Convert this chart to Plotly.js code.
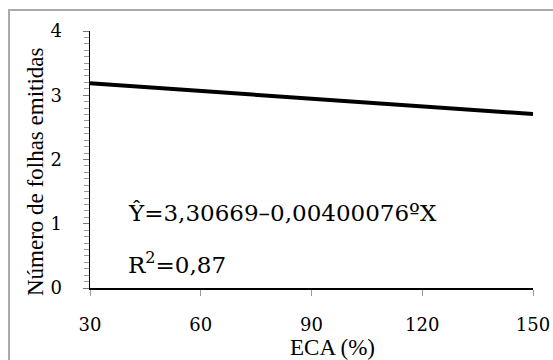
<!DOCTYPE html>
<html>
<head>
<meta charset="utf-8">
<script src="https://cdn.plot.ly/plotly-3.0.1.min.js"></script>
<style>html,body{margin:0;padding:0;background:#fff;}#chart{width:553px;height:360px;}</style>
</head>
<body>
<div id="chart"></div>
<script>
// Data
var ecaPercent = [30, 150];
var leavesFit = [3.187, 2.707];
var xTickVals = [30, 60, 90, 120, 150];
var yTickVals = [0, 1, 2, 3, 4];
var xTitle = "ECA (%)";
var yTitle = "Número de folhas emitidas";
var equationText = "Ŷ=3,30669–0,00400076ºX";
var r2Text = "R<sup>2</sup>=0,87";

var textFont = "'Liberation Serif', 'DejaVu Serif', serif";
var numFont = "'DejaVu Serif', serif";

var trace = {
  x: ecaPercent, y: leavesFit, type: "scatter", mode: "lines",
  line: {color: "#000", width: 4}, hoverinfo: "skip", showlegend: false
};

var L = 90, R = 20, T = 31, B = 72, W = 553, H = 360;
var pw = W - L - R, ph = H - T - B;
function px(x){ return (x - L) / pw; }
function py(y){ return (H - B - y) / ph; }

var layout = {
  width: W, height: H,
  margin: {l: L, r: R, t: T, b: B, pad: 0},
  paper_bgcolor: "#fff", plot_bgcolor: "#fff",
  font: {family: textFont, color: "#000", size: 21},
  showlegend: false,
  xaxis: {
    range: [30, 150], tickvals: xTickVals, ticktext: xTickVals.map(String),
    showline: true, linecolor: "#000", linewidth: 1.5,
    ticks: "outside", ticklen: 6, tickcolor: "#999", tickwidth: 1,
    ticklabelstandoff: 14,
    showgrid: false, zeroline: false, tickfont: {size: 18, family: numFont},
    fixedrange: true
  },
  yaxis: {
    range: [0, 4], tickvals: yTickVals, ticktext: yTickVals.map(String),
    showline: true, linecolor: "#000", linewidth: 1.5,
    ticks: "outside", ticklen: 6, tickcolor: "#777", tickwidth: 1,
    ticklabelstandoff: 17,
    minor: {dtick: 0.1, ticks: "outside", ticklen: 5, tickcolor: "#999", tickwidth: 1, showgrid: false},
    showgrid: false, zeroline: false, tickfont: {size: 18, family: numFont},
    fixedrange: true
  },
  shapes: [
    {type: "rect", xref: "paper", yref: "paper", x0: px(9), x1: px(600), y0: py(10), y1: py(420),
     line: {color: "#aaaaaa", width: 2}, fillcolor: "rgba(0,0,0,0)", layer: "below"}
  ],
  annotations: [
    {text: equationText, xref: "paper", yref: "paper", x: px(126), y: py(213), xanchor: "left", yanchor: "middle",
     showarrow: false, font: {size: 23, family: numFont}},
    {text: r2Text, xref: "paper", yref: "paper", x: px(126), y: py(263), xanchor: "left", yanchor: "middle",
     showarrow: false, font: {size: 23, family: numFont}},
    {text: xTitle, xref: "paper", yref: "paper", x: px(332), y: py(347), xanchor: "center", yanchor: "middle",
     showarrow: false, font: {size: 23, family: textFont}},
    {text: yTitle, xref: "paper", yref: "paper", x: px(35), y: py(172), xanchor: "center", yanchor: "middle",
     textangle: -90, showarrow: false, font: {size: 23, family: textFont}}
  ]
};

Plotly.newPlot("chart", [trace], layout, {displayModeBar: false, staticPlot: true});
</script>
</body>
</html>
